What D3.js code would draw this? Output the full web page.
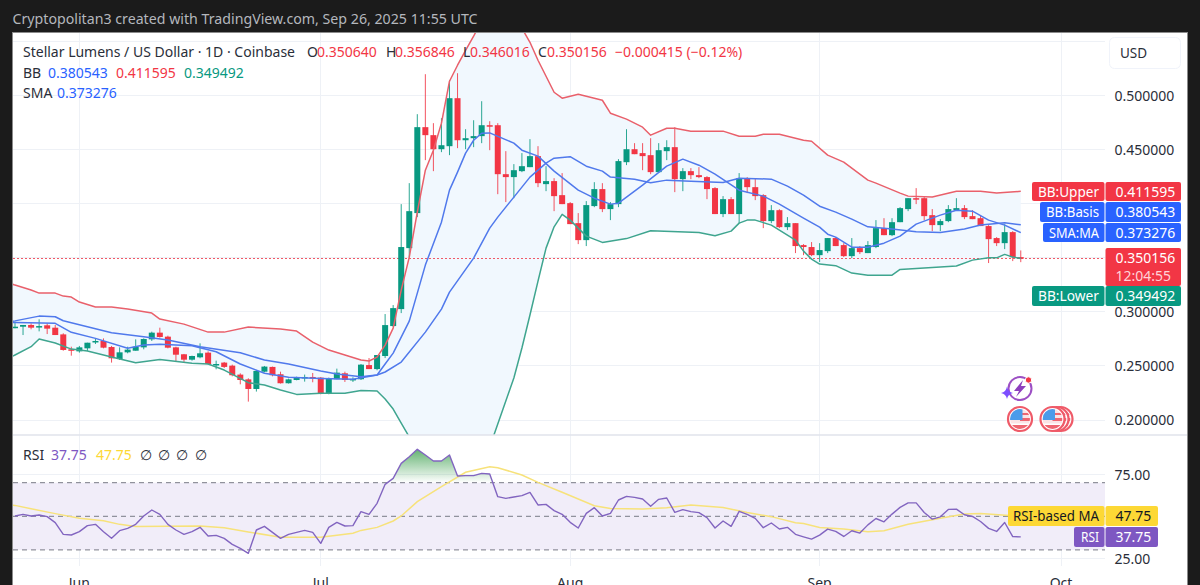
<!DOCTYPE html>
<html>
<head>
<meta charset="utf-8">
<title>Stellar Lumens / US Dollar</title>
<script src="https://cdn.jsdelivr.net/npm/d3@7"></script>
<style>
  html, body { margin: 0; padding: 0; background: #1b1b1b; overflow: hidden; }
  svg { display: block; }
  text { font-family: "Noto Sans", sans-serif; }
</style>
</head>
<body>
<svg id="chart" width="1200" height="585"></svg>
<script>
// Daily XLM/USD session values, first session 24 May 2025
const firstSession = Date.UTC(2025, 4, 24);

const candleOpen = [
  .2857,.2863,.2879,.2863,.2876,.2854,.2792,.2654,.2635,.2663,
  .2718,.2731,.2675,.2564,.2626,.2641,.2672,.2746,.2808,.2771,
  .2672,.2608,.2558,.2580,.2623,.2512,.2531,.2503,.2420,.2376,
  .2287,.2447,.2491,.2423,.2340,.2370,.2389,.2398,.2392,.2244,
  .2377,.2432,.2377,.2377,.2508,.2471,.2592,.2869,.3026,.3590,
  .3914,.4709,.4635,.4505,.4533,.4977,.4588,.4607,.4626,.4727,
  .4727,.4274,.4247,.4302,.4339,.4441,.4182,.4210,.4080,.4006,
  .3821,.3664,.3979,.4136,.3951,.3997,.4385,.4505,.4469,.4450,
  .4293,.4487,.4524,.4228,.4302,.4265,.4247,.4145,.3905,.4043,
  .3905,.4237,.4154,.4080,.3840,.3941,.3784,.3821,.3618,.3600,
  .3525,.3562,.3683,.3618,.3516,.3590,.3544,.3600,.3775,.3710,
  .3830,.3951,.4052,.4052,.3895,.3803,.3840,.3941,.3960,.3886,
  .3867,.3794,.3683,.3636,.3738,.350640];
const candleHigh = [
  .2909,.2879,.2894,.2931,.2894,.2879,.2802,.2678,.2685,.2715,
  .2755,.2755,.2685,.2672,.2678,.2746,.2755,.2817,.2854,.2780,
  .2678,.2611,.2595,.2709,.2635,.2549,.2537,.2512,.2432,.2386,
  .2463,.2500,.2494,.2447,.2383,.2401,.2420,.2435,.2398,.2392,
  .2475,.2447,.2395,.2518,.2573,.2601,.2980,.3063,.3997,.4191,
  .4829,.5199,.4746,.4792,.5143,.5208,.4690,.4773,.4949,.4764,
  .4746,.4487,.4367,.4469,.4598,.4533,.4348,.4237,.4284,.4016,
  .3914,.4025,.4200,.4191,.4016,.4413,.4690,.4561,.4561,.4607,
  .4561,.4588,.4709,.4330,.4330,.4339,.4256,.4154,.4071,.4062,
  .4284,.4247,.4237,.4089,.3988,.3950,.3877,.3821,.3627,.3646,
  .3636,.3683,.3692,.3636,.3683,.3609,.3655,.3849,.3867,.3867,
  .3969,.4052,.4145,.4062,.3951,.3858,.3988,.4052,.3988,.3941,
  .3895,.3803,.3692,.3812,.3747,.356846];
const candleLow = [
  .2848,.2786,.2839,.2820,.2795,.2786,.2641,.2595,.2623,.2638,
  .2703,.2663,.2531,.2555,.2617,.2641,.2654,.2731,.2762,.2663,
  .2543,.2537,.2549,.2571,.2512,.2469,.2481,.2404,.2330,.2170,
  .2263,.2441,.2404,.2337,.2337,.2367,.2355,.2349,.2238,.2238,
  .2377,.2352,.2352,.2370,.2471,.2460,.2573,.2860,.2989,.3507,
  .3877,.4404,.4302,.4478,.4450,.4515,.4505,.4524,.4561,.4496,
  .4089,.4016,.4052,.4293,.4339,.4154,.4117,.3932,.3997,.3812,
  .3627,.3609,.3969,.3923,.3849,.3969,.4358,.4459,.4311,.4274,
  .4293,.4404,.4108,.4117,.4228,.4237,.4043,.3905,.3877,.3905,
  .3821,.4099,.4034,.3775,.3821,.3775,.3757,.3544,.3525,.3516,
  .3461,.3544,.3609,.3507,.3497,.3535,.3544,.3590,.3710,.3701,
  .3830,.3932,.3997,.3849,.3747,.3747,.3830,.3941,.3858,.3858,
  .3794,.3452,.3609,.3581,.3470,.346016];
const candleClose = [
  .2863,.2879,.2854,.2869,.2845,.2786,.2648,.2648,.2672,.2715,
  .2731,.2669,.2571,.2626,.2651,.2678,.2749,.2808,.2768,.2669,
  .2604,.2558,.2592,.2617,.2518,.2518,.2491,.2414,.2370,.2287,
  .2454,.2494,.2414,.2340,.2376,.2395,.2398,.2383,.2244,.2386,
  .2438,.2370,.2380,.2512,.2471,.2601,.2878,.3035,.3600,.3932,
  .4709,.4635,.4505,.4542,.4977,.4588,.4607,.4626,.4727,.4718,
  .4274,.4247,.4311,.4348,.4441,.4191,.4210,.4071,.3997,.3812,
  .3664,.3988,.4136,.3951,.3997,.4395,.4505,.4459,.4441,.4293,
  .4496,.4524,.4228,.4302,.4265,.4247,.4136,.3905,.4043,.3905,
  .4237,.4154,.4071,.3840,.3941,.3784,.3821,.3609,.3600,.3525,
  .3572,.3683,.3609,.3516,.3590,.3553,.3618,.3775,.3710,.3830,
  .3960,.4052,.4043,.3886,.3803,.3840,.3951,.3960,.3877,.3858,
  .3794,.3673,.3636,.3738,.3506,.350156];

// Indicator readings as [session index, value]
const bbUpper = [[-1,.3276],[0,.3248],[2,.3202],[3,.3174],[5,.3174],[6,.3146],[7,.3137],[8,.3091],[10,.3045],[12,.3045],[14,.3026],[17,.2989],[18,.2934],[21,.2887],[24,.2813],[26,.2813],[29,.2860],[33,.2841],[35,.2823],[37,.2721],[39,.2647],[41,.2601],[43,.2555],[44,.2546],[45,.2582],[46,.2693],[47,.2850],[48,.3202],[49,.3507],[50,.3923],[51,.4311],[52,.4496],[53,.4746],[54,.5134],[55,.5282],[56,.5420],[57,.5550],[58,.5698],[62,.5698],[63,.5624],[64,.5494],[65,.5328],[67,.5032],[68,.4977],[70,.5014],[73,.4958],[74,.4838],[76,.4783],[78,.4709],[79,.4635],[81,.4699],[82,.4699],[84,.4672],[88,.4672],[90,.4625],[92,.4625],[93,.4644],[95,.4644],[98,.4588],[99,.4579],[101,.4450],[103,.4385],[106,.4219],[107,.4191],[110,.4099],[111,.4071],[114,.4062],[117,.4117],[120,.4117],[122,.4099],[125,.411595]];
const bbBasis = [[-1,.2905],[0,.2917],[3,.2961],[5,.2955],[6,.2918],[9,.2862],[12,.2807],[16,.2770],[19,.2740],[23,.2677],[28,.2622],[31,.2555],[34,.2518],[38,.2453],[40,.2425],[43,.2400],[45,.2416],[46,.2444],[48,.2536],[51,.2813],[53,.3026],[54,.3183],[57,.3498],[59,.3775],[60,.3877],[62,.4062],[64,.4247],[66,.4376],[67,.4422],[69,.4436],[71,.4348],[73,.4302],[74,.4247],[77,.4228],[79,.4194],[81,.4219],[84,.4209],[88,.4197],[90,.4237],[94,.4228],[96,.4163],[98,.4080],[100,.3978],[102,.3923],[104,.3858],[106,.3787],[109,.3766],[112,.3741],[115,.3735],[118,.3766],[120,.3803],[123,.3824],[125,.380543]];
const bbLower = [[-1,.2564],[0,.2601],[2,.2678],[3,.2749],[5,.2712],[7,.2656],[9,.2638],[12,.2582],[15,.2530],[18,.2559],[22,.2524],[24,.2518],[26,.2462],[29,.2345],[31,.2324],[33,.2277],[35,.2237],[38,.2247],[41,.2247],[43,.2273],[45,.2268],[46,.2194],[47,.2101],[48,.1972],[49,.1843],[50,.1630],[52,.1260],[56,.1260],[58,.1537],[59,.1750],[60,.1963],[62,.2388],[63,.2666],[64,.2971],[65,.3285],[66,.3590],[67,.3787],[68,.3902],[69,.3849],[71,.3701],[73,.3643],[76,.3678],[79,.3750],[85,.3735],[87,.3704],[89,.3747],[90,.3821],[91,.3849],[92,.3849],[94,.3803],[97,.3664],[98,.3562],[99,.3488],[100,.3442],[102,.3428],[104,.3359],[106,.3340],[109,.3340],[110,.3393],[114,.3411],[117,.3424],[119,.3479],[121,.3500],[122,.3500],[123,.3532],[124,.3507],[125,.349492]];
const smaLine = [[-1,.2898],[0,.2903],[5,.2894],[7,.2811],[10,.2755],[14,.2663],[16,.2693],[18,.2700],[22,.2687],[25,.2631],[28,.2518],[31,.2432],[34,.2395],[38,.2385],[42,.2376],[45,.2416],[46,.2518],[47,.2619],[49,.2915],[51,.3433],[53,.3830],[54,.4127],[55,.4293],[56,.4469],[57,.4588],[58,.4653],[59,.4656],[62,.4561],[63,.4496],[65,.4441],[67,.4302],[70,.4126],[72,.4052],[74,.3997],[75,.4006],[78,.4172],[81,.4348],[83,.4413],[85,.4357],[87,.4274],[90,.4126],[93,.4071],[95,.3997],[98,.3867],[100,.3784],[101,.3719],[102,.3692],[104,.3599],[106,.3599],[108,.3636],[110,.3701],[112,.3812],[115,.3895],[117,.3941],[119,.3932],[121,.3849],[123,.3803],[125,.373276]];

const rsiValues = [
  50.18,51.17,50.18,50.77,49.78,46.21,39.27,38.87,40.85,44.43,
  45.22,40.85,36.89,41.45,42.84,45.22,50.18,53.75,51.17,45.22,
  41.85,39.27,40.85,43.43,38.27,38.67,36.89,33.32,30.93,27.96,
  41.85,44.03,40.46,36.89,39.27,40.46,41.65,40.46,33.91,43.43,
  46.41,44.23,44.43,52.76,51.17,57.72,69.03,72.60,81.50,85.49,
  89.86,86.49,82.91,82.91,86.49,73.99,74.19,74.19,75.57,75.18,
  61.69,60.69,61.49,62.28,64.26,56.73,57.12,53.35,51.17,46.41,
  43.03,51.77,55.14,50.18,51.77,59.70,61.88,61.29,60.30,55.93,
  60.10,60.89,52.36,53.95,52.76,52.16,49.19,43.03,47.20,44.03,
  52.96,51.17,48.79,43.23,46.01,42.44,43.43,39.27,37.80,36.40,
  38.80,42.40,41.00,38.00,41.40,40.00,44.90,48.70,46.70,51.30,
  55.30,58.00,58.00,52.30,48.30,49.70,54.10,54.30,50.90,49.90,
  46.90,42.80,41.00,46.30,37.90,37.75];
const rsiMa = [[-1,57.0],[0,56.5],[2,54.5],[5,51.6],[8,48.8],[11,47.4],[13,45.2],[15,44.0],[23,44.2],[26,43.2],[29,40.7],[33,37.5],[38,37.5],[42,39.9],[43,41.6],[45,43.4],[47,47.2],[48,50.2],[50,58.7],[53,67.6],[56,76.2],[59,79.54],[60,78.95],[63,74.6],[65,70.2],[68,64.3],[72,56.3],[74,54.7],[78,54.3],[81,55.1],[84,56.7],[88,55.3],[91,52.2],[94,49.8],[97,46.2],[98,45.7],[100,43.4],[103,42.4],[106,40.8],[108,41.4],[111,45.3],[115,48.9],[118,51.3],[120,51.7],[124,50.3],[125,47.75]];

// Axis ticks and labels
const priceTicks = [0.5, 0.45, 0.4, 0.35, 0.3, 0.25, 0.2];
const priceTickLabels = [0.5, 0.45, 0.3, 0.25, 0.2];
const priceGridExtra = [0.55];
const rsiTicks = [75, 25];
const rsiLevels = [70, 50, 30];
const monthStarts = [Date.UTC(2025,5,1), Date.UTC(2025,6,1), Date.UTC(2025,7,1), Date.UTC(2025,8,1), Date.UTC(2025,9,1)];
const monthNames = ["Jun", "Jul", "Aug", "Sep", "Oct"];

// Legend rows: [text, x, row baseline, colour]
const red = "#f23645", teal = "#089981", blue = "#2962ff", violet = "#7e57c2", amber = "#fdd835", ink = "#2a2e39";
const legendRows = [
  ["Stellar Lumens / US Dollar · 1D · Coinbase", 23, 57, ink],
  ["O", 307, 57, ink], ["0.350640", 317, 57, red],
  ["H", 386, 57, ink], ["0.356846", 395, 57, red],
  ["L", 463, 57, ink], ["0.346016", 470, 57, red],
  ["C", 538, 57, ink], ["0.350156", 547, 57, red],
  ["−0.000415 (−0.12%)", 615, 57, red],
  ["BB", 23, 78, ink], ["0.380543", 48, 78, blue], ["0.411595", 116, 78, red], ["0.349492", 184, 78, teal],
  ["SMA", 23, 98, ink], ["0.373276", 57, 98, blue],
  ["RSI", 23, 460, ink], ["37.75", 51, 460, violet], ["47.75", 96, 460, amber],
  ["∅", 140, 460, ink], ["∅", 158, 460, ink], ["∅", 176, 460, ink], ["∅", 195, 460, ink]
];

// Scale-side tags: [name, value, name box left, top, bottom, fill, text colour, name width]
const scaleTags = [
  ["BB:Upper", "0.411595", 1032, 182, 201, red, "#fff", 61],
  ["BB:Basis", "0.380543", 1040, 202, 222, blue, "#fff", 53],
  ["SMA:MA", "0.373276", 1043, 223, 242, blue, "#fff", 50],
  ["BB:Lower", "0.349492", 1032, 286, 306, teal, "#fff", 61]
];
const rsiTags = [
  ["RSI-based MA", "47.75", 1008, 506, 526, amber, "#131722", 86],
  ["RSI", "37.75", 1074, 527, 547, violet, "#fff", 18]
];

const svg = d3.select("#chart");
const paneLeft = 13, paneRight = 1105, frameRight = 1187, frameTop = 33, split = 435, paneBottom = 566;

const day = i => new Date(firstSession + i * 864e5);
const x = d3.scaleUtc().domain([firstSession, monthStarts[4]]).range([15, 1061]);
const yPrice = d3.scaleLinear().domain([0.2, 0.5]).range([420, 95.7]);
const yRsi = d3.scaleLinear().domain([25, 75]).range([558.3, 474.3]);

// Window frame
svg.append("rect").attr("width", 1200).attr("height", 585).attr("fill", "#1b1b1b");
svg.append("rect").attr("x", paneLeft - .5).attr("y", frameTop - .5).attr("width", frameRight - paneLeft + 1).attr("height", 600)
  .attr("fill", "#fff").attr("stroke", "#8b8b8b");

const defs = svg.append("defs");
defs.append("clipPath").attr("id", "pricePane").append("rect")
  .attr("x", paneLeft).attr("y", frameTop).attr("width", paneRight - paneLeft).attr("height", split - frameTop);
defs.append("clipPath").attr("id", "rsiPane").append("rect")
  .attr("x", paneLeft).attr("y", split).attr("width", paneRight - paneLeft).attr("height", paneBottom - split);
defs.append("clipPath").attr("id", "overbought").append("rect")
  .attr("x", paneLeft).attr("y", split).attr("width", paneRight - paneLeft).attr("height", yRsi(70) - split);
const glow = defs.append("linearGradient").attr("id", "overboughtFill").attr("gradientUnits", "userSpaceOnUse")
  .attr("x1", 0).attr("x2", 0).attr("y1", yRsi(90)).attr("y2", yRsi(70));
glow.append("stop").attr("offset", 0).attr("stop-color", "#3c9f4e").attr("stop-opacity", .8);
glow.append("stop").attr("offset", 1).attr("stop-color", "#3c9f4e").attr("stop-opacity", 0);

// Grid
const grid = svg.append("g").attr("stroke", "#eef1f6").attr("stroke-width", 1).attr("shape-rendering", "crispEdges");
grid.selectAll(".v").data(monthStarts).join("line")
  .attr("x1", d => x(d)).attr("x2", d => x(d)).attr("y1", frameTop).attr("y2", paneBottom);
grid.selectAll(".p").data(priceTicks.concat(priceGridExtra)).join("line")
  .attr("x1", paneLeft).attr("x2", paneRight).attr("y1", d => yPrice(d)).attr("y2", d => yPrice(d));
grid.selectAll(".r").data(rsiTicks).join("line")
  .attr("x1", paneLeft).attr("x2", paneRight).attr("y1", d => yRsi(d)).attr("y2", d => yRsi(d));

// Price pane
const pricePane = svg.append("g").attr("clip-path", "url(#pricePane)");
const priceLine = d3.line().x(d => x(day(d[0]))).y(d => yPrice(d[1]));

const bandPath = priceLine(bbUpper) + "L" + priceLine(bbLower.slice().reverse()).slice(1) + "Z";
pricePane.append("path").attr("d", bandPath).attr("fill", "#f1f8fe");

const lastPriceY = Math.round(yPrice(candleClose[125])) + .5;
pricePane.append("line").attr("x1", paneLeft).attr("x2", paneRight)
  .attr("y1", lastPriceY).attr("y2", lastPriceY)
  .attr("stroke", "#ef5a68").attr("stroke-width", 1).attr("stroke-dasharray", "2 2");

const candles = pricePane.append("g").selectAll("g").data(candleOpen).join("g");
const hue = i => candleClose[i] >= candleOpen[i] ? teal : red;
candles.append("line")
  .attr("x1", (d, i) => x(day(i))).attr("x2", (d, i) => x(day(i)))
  .attr("y1", (d, i) => yPrice(candleHigh[i])).attr("y2", (d, i) => yPrice(candleLow[i]))
  .attr("stroke", (d, i) => hue(i)).attr("stroke-width", 1).attr("opacity", .85);
candles.append("rect")
  .attr("x", (d, i) => x(day(i)) - 3).attr("width", 6)
  .attr("y", (d, i) => yPrice(Math.max(d, candleClose[i])))
  .attr("height", (d, i) => Math.max(1.5, Math.abs(yPrice(d) - yPrice(candleClose[i]))))
  .attr("fill", (d, i) => hue(i));

[[bbUpper, "#e9606b"], [bbLower, "#3fa58f"], [bbBasis, "#5079ec"], [smaLine, "#5079ec"]].forEach(([rows, colour]) => {
  pricePane.append("path").attr("d", priceLine(rows)).attr("fill", "none")
    .attr("stroke", colour).attr("stroke-width", 1.5).attr("stroke-linejoin", "round");
});

// RSI pane
const rsiPane = svg.append("g").attr("clip-path", "url(#rsiPane)");
rsiPane.append("rect").attr("x", paneLeft).attr("width", paneRight - paneLeft)
  .attr("y", yRsi(70)).attr("height", yRsi(30) - yRsi(70)).attr("fill", "#f1edf9");
rsiPane.selectAll(".level").data(rsiLevels).join("line")
  .attr("x1", paneLeft).attr("x2", paneRight).attr("y1", d => yRsi(d)).attr("y2", d => yRsi(d))
  .attr("stroke", "#787b86").attr("stroke-dasharray", "5 4").attr("stroke-width", 1);
rsiPane.append("path")
  .datum(rsiValues)
  .attr("d", d3.area().x((d, i) => x(day(i))).y0(yRsi(70)).y1(d => yRsi(d)))
  .attr("fill", "url(#overboughtFill)").attr("clip-path", "url(#overbought)");
rsiPane.append("path")
  .attr("d", d3.line().x(d => x(day(d[0]))).y(d => yRsi(d[1]))(rsiMa))
  .attr("fill", "none").attr("stroke", "#f7e27a").attr("stroke-width", 1.5);
rsiPane.append("path").datum(rsiValues)
  .attr("d", d3.line().x((d, i) => x(day(i))).y(d => yRsi(d)))
  .attr("fill", "none").attr("stroke", "#8265c0").attr("stroke-width", 1.4).attr("stroke-linejoin", "round");

// Pane separator
svg.append("line").attr("x1", paneLeft).attr("x2", frameRight).attr("y1", split).attr("y2", split)
  .attr("stroke", "#e0e3eb").attr("stroke-width", 1.5);

// Value axes
const priceAxis = d3.axisRight(yPrice).tickValues(priceTickLabels).tickSize(0).tickPadding(0).tickFormat(d3.format(".6f"));
const rsiAxis = d3.axisRight(yRsi).tickValues(rsiTicks).tickSize(0).tickPadding(0).tickFormat(d3.format(".2f"));
[priceAxis, rsiAxis].forEach(axis => {
  const g = svg.append("g").attr("transform", "translate(1114.5,0)").call(axis);
  g.select(".domain").remove();
  g.selectAll("text").attr("font-size", 14).attr("fill", ink).attr("font-family", '"Noto Sans", sans-serif').attr("dy", "0.34em");
});

// Month labels sit on the bottom edge of the window
svg.append("g").selectAll("text").data(monthStarts).join("text")
  .attr("x", d => x(d)).attr("y", 588).attr("text-anchor", "middle")
  .attr("font-size", 14).attr("fill", ink).text((d, i) => monthNames[i]);

// Currency button
svg.append("rect").attr("x", 1109.5).attr("y", 37.5).attr("width", 71).attr("height", 31).attr("rx", 5)
  .attr("fill", "#fff").attr("stroke", "#f0f3fa");
svg.append("text").attr("x", 1133.5).attr("y", 58).attr("text-anchor", "middle").attr("font-size", 13.5).attr("fill", ink).text("USD");

// Header and legends
svg.append("text").attr("x", 12.5).attr("y", 24).attr("font-size", 14.2).attr("fill", "#b4b7bd")
  .text("Cryptopolitan3 created with TradingView.com, Sep 26, 2025 11:55 UTC");
svg.append("g").selectAll("text").data(legendRows).join("text")
  .attr("x", d => d[1]).attr("y", d => d[2]).attr("fill", d => d[3]).attr("font-size", 14).text(d => d[0]);

// Scale tags
function drawTag(t, valueRight) {
  const [name, value, left, top, bottom, fill, colour, nameWidth] = t;
  const mid = (top + bottom) / 2 + 5;
  svg.append("rect").attr("x", left).attr("y", top).attr("width", 1104.5 - left).attr("height", bottom - top).attr("rx", 2).attr("fill", fill);
  svg.append("rect").attr("x", 1105.5).attr("y", top).attr("width", valueRight - 1105.5).attr("height", bottom - top).attr("rx", 2).attr("fill", fill);
  svg.append("text").attr("x", 1099 - nameWidth).attr("y", mid).attr("font-size", 14).attr("fill", colour)
    .attr("textLength", nameWidth).attr("lengthAdjust", "spacingAndGlyphs").text(name);
  svg.append("text").attr("x", 1115.5).attr("y", mid).attr("font-size", 14).attr("fill", colour).text(value);
}
scaleTags.forEach(t => drawTag(t, 1181));
rsiTags.forEach(t => drawTag(t, 1158));

// Last price box with countdown
svg.append("rect").attr("x", 1105.5).attr("y", 248).attr("width", 75.5).attr("height", 38).attr("rx", 2).attr("fill", red);
svg.append("text").attr("x", 1115.5).attr("y", 263).attr("font-size", 14).attr("fill", "#fff").text("0.350156");
svg.append("text").attr("x", 1115.5).attr("y", 281).attr("font-size", 14).attr("fill", "#ffd3d7").text("12:04:55");

// News and event markers
const marks = svg.append("g");
marks.append("circle").attr("cx", 1020).attr("cy", 388.5).attr("r", 11.5).attr("fill", "#fff").attr("stroke", "#9c4fc4").attr("stroke-width", 2);
marks.append("path").attr("d", "M1023 380L1014 391L1019 391L1016 397L1026 386L1021 386Z").attr("fill", "#8e3fbe");
marks.append("circle").attr("cx", 1028.5).attr("cy", 380).attr("r", 3.2).attr("fill", red).attr("stroke", "#fff");
marks.append("path").attr("d", "M1007 386.5Q1008 392 1013 393Q1008 394 1007 399Q1006 394 1001 393Q1006 392 1007 386.5Z").attr("fill", "#7c4dff");

function flag(cx, cy) {
  const r = 10;
  const g = marks.append("g");
  const id = "flag" + cx;
  defs.append("clipPath").attr("id", id).append("circle").attr("cx", cx).attr("cy", cy).attr("r", r);
  g.append("circle").attr("cx", cx).attr("cy", cy).attr("r", 12).attr("fill", "#fff").attr("stroke", "#ef5a68").attr("stroke-width", 2.2);
  const inner = g.append("g").attr("clip-path", `url(#${id})`);
  inner.append("rect").attr("x", cx - r).attr("y", cy - r).attr("width", 2 * r).attr("height", 2 * r).attr("fill", "#fbe3e5");
  inner.append("rect").attr("x", cx).attr("y", cy - 6).attr("width", r).attr("height", 2).attr("fill", "#ef6671");
  inner.append("rect").attr("x", cx).attr("y", cy - 1).attr("width", r).attr("height", 3).attr("fill", "#ef6671");
  inner.append("rect").attr("x", cx - r).attr("y", cy + 4.5).attr("width", 2 * r).attr("height", 1.5).attr("fill", "#fff");
  inner.append("rect").attr("x", cx - r).attr("y", cy + 6).attr("width", 2 * r).attr("height", 5).attr("fill", "#ef6671");
  inner.append("rect").attr("x", cx - r).attr("y", cy - r).attr("width", r + 2.5).attr("height", r + 1).attr("fill", "#4b9bea");
}
flag(1060.5, 419);
flag(1056.5, 419);
flag(1052.5, 419);
flag(1020, 419);
</script>
</body>
</html>
